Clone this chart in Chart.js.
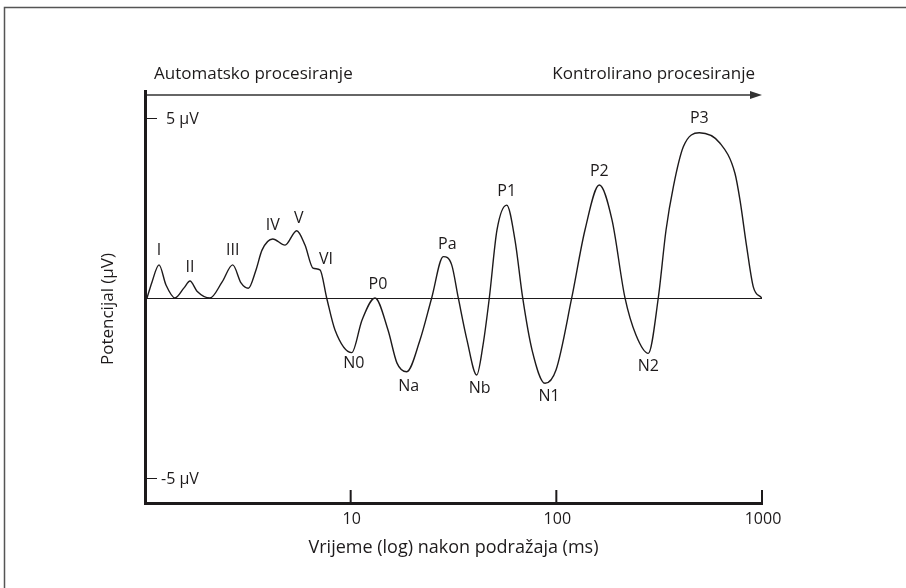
<!DOCTYPE html>
<html>
<head>
<meta charset="utf-8">
<title>ERP</title>
<script src="https://cdn.jsdelivr.net/npm/chart.js@4"></script>
<style>
    body { margin: 0; background: #fff; }
    canvas { display: block; }
</style>
</head>
<body>
<canvas id="erpChart" width="906" height="588"></canvas>
<script>
// time after stimulus (ms)
let timeMs = [1.023, 1.081, 1.17, 1.265, 1.399, 1.548, 1.655, 1.79, 2.07, 2.368,
    2.67, 2.93, 3.179, 3.465, 3.706, 4.178, 4.795, 5.466, 5.997, 6.559,
    7.094, 7.645, 8.391, 10.12, 11.36, 13.13, 15.19, 16.8, 18.73, 21.73,
    24.77, 28.21, 30.99, 33.37, 36.78, 41.01, 44, 47.22, 51.46, 57.39,
    62.95, 68.63, 76.15, 88.1, 99.63, 118.8, 137.8, 161.8, 186.5, 215.7,
    243.9, 279.9, 313.1, 341.5, 370.6, 414.4, 495.6, 625.2, 739.1, 781.7,
    842.6, 907.1, 996.6];

// potential (µV)
let potential = [0, 0.44, 0.92, 0.36, 0, 0.28, 0.47, 0.19, 0, 0.44,
    0.92, 0.42, 0.27, 0.78, 1.33, 1.64, 1.47, 1.87, 1.47, 0.83,
    0.78, 0, -0.89, -1.52, -0.61, 0, -0.89, -1.81, -2.05, -1.17,
    0, 1.15, 0.92, 0, -1.17, -2.14, -1.31, 0, 1.89, 2.58,
    1.61, 0, -1.44, -2.37, -2.0, 0, 1.89, 3.14, 2.17, 0,
    -1.03, -1.54, 0, 1.89, 3.09, 4.2, 4.59, 4.3, 3.46, 2.72,
    1.42, 0.31, 0];

// named components and the sample index of each
let peakNames = ["I", "II", "III", "IV", "V", "VI", "N0", "P0", "Na", "Pa", "Nb", "P1", "N1", "P2", "N2", "P3"];
let peakIdx = [2, 6, 10, 15, 17, 20, 23, 25, 28, 31, 35, 39, 43, 47, 51, 56];

let xTicks = [10, 100, 1000];
let yTicks = [5, -5];
let yTickLabels = ["5 µV", "-5 µV"];

let topLeftText = "Automatsko procesiranje";
let topRightText = "Kontrolirano procesiranje";
let xTitle = "Vrijeme (log) nakon podražaja (ms)";
let yTitle = "Potencijal (µV)";

let ink = "#1d1a1b";
let fontFam = "'Open Sans', sans-serif";

// small nudges so labels sit like in the figure
let labelNudge = { "V": [2, 2], "VI": [6, 4], "P0": [3, 0], "Pa": [4, 2], "Nb": [3, 0], "N1": [4, 0], "Na": [2, 2], "N0": [2, -2] };

let points = timeMs.map((t, i) => ({ x: t, y: potential[i] }));

let decor = {
    id: "decor",
    beforeDatasetsDraw(chart) {
        let c = chart.ctx;
        let xs = chart.scales.x, ys = chart.scales.y;
        c.save();
        // outer frame (top + left only)
        c.strokeStyle = "#555";
        c.lineWidth = 1.5;
        c.beginPath();
        c.moveTo(4.5, 588);
        c.lineTo(4.5, 7.5);
        c.lineTo(906, 7.5);
        c.stroke();
        // zero line
        c.strokeStyle = ink;
        c.lineWidth = 1;
        c.beginPath();
        c.moveTo(xs.getPixelForValue(1), Math.round(ys.getPixelForValue(0)) + 0.5);
        c.lineTo(xs.getPixelForValue(1000), Math.round(ys.getPixelForValue(0)) + 0.5);
        c.stroke();
        c.restore();
    },
    afterDatasetsDraw(chart) {
        let c = chart.ctx;
        let a = chart.chartArea;
        let xs = chart.scales.x, ys = chart.scales.y;
        c.save();
        c.strokeStyle = ink;
        c.fillStyle = ink;

        // thick axes
        c.lineWidth = 3;
        c.beginPath();
        c.moveTo(a.left + 0.5, a.top);
        c.lineTo(a.left + 0.5, a.bottom + 1.5);
        c.lineTo(a.right + 1, a.bottom + 1.5);
        c.stroke();

        // x ticks (inward) and labels
        c.lineWidth = 2;
        c.font = "16px " + fontFam;
        c.textAlign = "center";
        c.textBaseline = "middle";
        xTicks.forEach(v => {
            let px = xs.getPixelForValue(v);
            c.beginPath();
            c.moveTo(px, a.bottom);
            c.lineTo(px, a.bottom - 12);
            c.stroke();
            c.fillText(String(v), px + 1, a.bottom + 17);
        });

        // y ticks (inward) and labels
        c.lineWidth = 1;
        c.textAlign = "left";
        yTicks.forEach((v, i) => {
            let py = Math.round(ys.getPixelForValue(v)) + 0.5;
            c.beginPath();
            c.moveTo(a.left + 2, py);
            c.lineTo(a.left + 12, py);
            c.stroke();
            c.font = "16px " + fontFam;
            c.fillText(yTickLabels[i], a.left + (v < 0 ? 16 : 21), py + 1);
        });

        // arrow along top
        let ay = a.top + 5;
        c.strokeStyle = "#333";
        c.fillStyle = "#333";
        c.lineWidth = 1.5;
        c.beginPath();
        c.moveTo(a.left + 2, ay);
        c.lineTo(a.right - 8, ay);
        c.stroke();
        c.beginPath();
        c.moveTo(a.right, ay);
        c.lineTo(a.right - 12, ay - 4);
        c.lineTo(a.right - 12, ay + 4);
        c.closePath();
        c.fill();

        // top captions
        c.fillStyle = ink;
        c.font = "17px " + fontFam;
        c.textBaseline = "middle";
        c.textAlign = "left";
        c.fillText(topLeftText, a.left + 9, a.top - 16);
        c.textAlign = "right";
        c.fillText(topRightText, a.right - 7, a.top - 16);

        // axis titles
        c.textAlign = "center";
        c.font = "18px " + fontFam;
        c.fillText(xTitle, (a.left + a.right) / 2, a.bottom + 46);
        c.save();
        c.font = "17px " + fontFam;
        c.translate(a.left - 37, 309);
        c.rotate(-Math.PI / 2);
        c.fillText(yTitle, 0, 0);
        c.restore();

        // component labels
        c.font = "16px " + fontFam;
        c.textAlign = "center";
        peakNames.forEach((name, i) => {
            let k = peakIdx[i];
            let px = xs.getPixelForValue(timeMs[k]);
            let py = ys.getPixelForValue(potential[k]);
            let up = name[0] !== "N";
            let n = labelNudge[name] || [0, 0];
            c.fillText(name, px + n[0], py + (up ? -14 : 13) + n[1]);
        });
        c.restore();
    }
};

let ctx = document.getElementById("erpChart").getContext("2d");
new Chart(ctx, {
    type: "line",
    data: {
        datasets: [{
            data: points,
            borderColor: ink,
            borderWidth: 1.4,
            pointRadius: 0,
            fill: false,
            cubicInterpolationMode: "monotone"
        }]
    },
    options: {
        responsive: false,
        animation: false,
        layout: { padding: { left: 145, right: 144, top: 90, bottom: 86 } },
        scales: {
            x: { type: "logarithmic", min: 1, max: 1000, display: false },
            y: { min: -5.67, max: 5.78, display: false }
        },
        plugins: { legend: { display: false }, tooltip: { enabled: false } }
    },
    plugins: [decor]
});
</script>
</body>
</html>
